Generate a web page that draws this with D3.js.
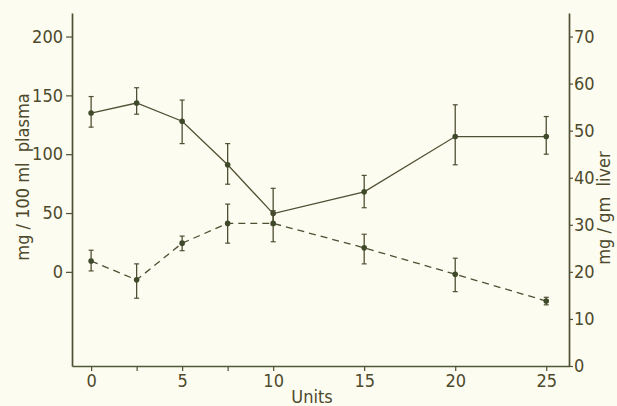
<!DOCTYPE html>
<html lang="en">
<head>
    <meta charset="UTF-8">
    <title>Plasma and liver levels</title>
    <script src="https://d3js.org/d3.v7.min.js"></script>
    <style>
        body { margin: 0; background: #fdfcf1; }
        svg { display: block; }
        text { font-family: "DejaVu Sans Condensed", "DejaVu Sans", sans-serif; fill: #4d4a2c; }
    </style>
</head>
<body>
    <svg id="chart"></svg>
    <script>
        // data
        var units = [0, 2.5, 5, 7.5, 10, 15, 20, 25];

        // plasma, mg/100 ml (left axis), solid line
        var plasma = [135, 143.5, 128, 91, 49.5, 68, 115, 115];
        var plasmaHi = [149, 156.5, 146, 109, 71, 82, 142, 132];
        var plasmaLo = [123, 134, 109, 74.5, 40, 54.5, 91, 100];

        // liver, mg/gm (right axis), dashed line
        var liver = [22.3, 18.3, 26.1, 30.3, 30.3, 25.1, 19.5, 13.8];
        var liverHi = [24.6, 21.7, 27.6, 34.4, 33, 28, 22.9, 14.6];
        var liverLo = [20.2, 14.4, 24.5, 26.1, 26.4, 21.7, 15.8, 13];

        var xTicks = [0, 2.5, 5, 7.5, 10, 15, 20, 25];
        var xLabels = [0, 5, 10, 15, 20, 25];
        var leftTicks = [0, 50, 100, 150, 200];
        var rightTicks = [0, 10, 20, 30, 40, 50, 60, 70];

        var W = 617, H = 406;
        var plotL = 72, plotR = 569, plotT = 13, plotB = 366;
        var ink = "#4f4f33";
        var fs = 18;

        var svg = d3.select("#chart").attr("width", W).attr("height", H);

        var x = d3.scaleLinear().domain([-1.05, 26.25]).range([plotL, plotR]);
        var yL = d3.scaleLinear().domain([-80, 220]).range([plotB, plotT]);
        var yR = d3.scaleLinear().domain([0, 75]).range([plotB, plotT]);

        // x axis
        var xAxis = svg.append("g")
            .attr("transform", "translate(0," + plotB + ")")
            .call(d3.axisBottom(x).tickValues(xTicks).tickSize(5).tickSizeOuter(0)
                .tickFormat(d => xLabels.indexOf(d) >= 0 ? d : ""));
        xAxis.select(".domain").attr("stroke", "#4d5a34").attr("stroke-width", 1.7);
        xAxis.selectAll(".tick line").attr("stroke", ink).attr("stroke-width", 1.2);
        xAxis.selectAll(".tick text").attr("font-size", fs).attr("fill", "#4d4a2c")
            .attr("font-family", null).attr("y", 8);

        // left axis
        var yAxisL = svg.append("g")
            .attr("transform", "translate(" + plotL + ",0)")
            .call(d3.axisLeft(yL).tickValues(leftTicks).tickSize(6).tickPadding(3).tickSizeOuter(0));
        yAxisL.select(".domain").attr("stroke", ink).attr("stroke-width", 1.7);
        yAxisL.selectAll(".tick line").attr("stroke", ink).attr("stroke-width", 1.2);
        yAxisL.selectAll(".tick text").attr("font-size", fs).attr("fill", "#4d4a2c").attr("font-family", null);

        // right axis
        var yAxisR = svg.append("g")
            .attr("transform", "translate(" + plotR + ",0)")
            .call(d3.axisRight(yR).tickValues(rightTicks).tickSize(4).tickPadding(1).tickSizeOuter(0));
        yAxisR.select(".domain").attr("stroke", ink).attr("stroke-width", 1.7);
        yAxisR.selectAll(".tick line").attr("stroke", ink).attr("stroke-width", 1.2);
        yAxisR.selectAll(".tick text").attr("font-size", fs).attr("fill", "#4d4a2c").attr("font-family", null);

        // axis titles
        svg.append("text")
            .attr("text-anchor", "middle")
            .attr("x", 312).attr("y", 403)
            .attr("font-size", fs)
            .text("Units");

        svg.append("text")
            .attr("text-anchor", "middle")
            .attr("transform", "translate(29,177) rotate(-90)")
            .attr("font-size", fs)
            .attr("xml:space", "preserve")
            .text("mg / 100 ml  plasma");

        svg.append("text")
            .attr("text-anchor", "middle")
            .attr("transform", "translate(610,208) rotate(-90)")
            .attr("font-size", fs)
            .attr("xml:space", "preserve")
            .text("mg / gm  liver");

        function drawSeries(vals, hi, lo, y, dash) {
            var pts = units.map((u, i) => ({ u: u, v: vals[i], hi: hi[i], lo: lo[i] }));
            var line = d3.line().x(d => x(d.u)).y(d => y(d.v));
            svg.append("path")
                .datum(pts)
                .attr("d", line)
                .attr("fill", "none")
                .attr("stroke", ink)
                .attr("stroke-width", 1.3)
                .attr("stroke-dasharray", dash);

            var g = svg.append("g").selectAll("g").data(pts).enter().append("g");
            g.append("line")
                .attr("x1", d => x(d.u)).attr("x2", d => x(d.u))
                .attr("y1", d => y(d.hi)).attr("y2", d => y(d.lo))
                .attr("stroke", ink).attr("stroke-width", 1.3);
            g.append("line")
                .attr("x1", d => x(d.u) - 2.5).attr("x2", d => x(d.u) + 2.5)
                .attr("y1", d => y(d.hi)).attr("y2", d => y(d.hi))
                .attr("stroke", ink).attr("stroke-width", 1.2);
            g.append("line")
                .attr("x1", d => x(d.u) - 2.5).attr("x2", d => x(d.u) + 2.5)
                .attr("y1", d => y(d.lo)).attr("y2", d => y(d.lo))
                .attr("stroke", ink).attr("stroke-width", 1.2);
            g.append("circle")
                .attr("cx", d => x(d.u)).attr("cy", d => y(d.v))
                .attr("r", 2.8)
                .attr("fill", "#3f4a2a");
        }

        drawSeries(plasma, plasmaHi, plasmaLo, yL, null);
        drawSeries(liver, liverHi, liverLo, yR, "7,5");
    </script>
</body>
</html>
